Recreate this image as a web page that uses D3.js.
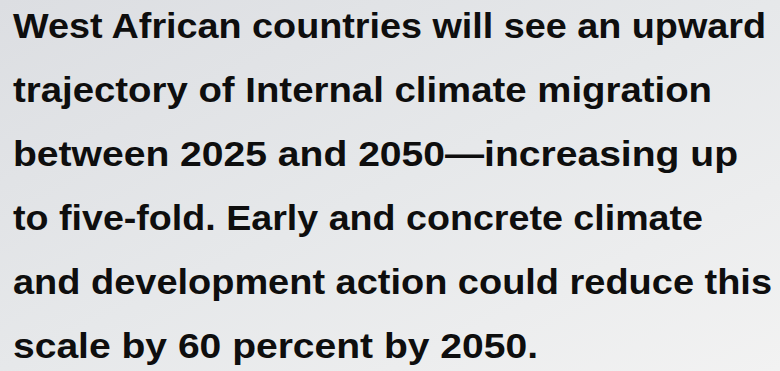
<!DOCTYPE html>
<html>
<head>
<meta charset="utf-8">
<script src="https://cdn.jsdelivr.net/npm/d3@7"></script>
<style>
  html, body { margin: 0; padding: 0; background: #e8e9eb; }
  svg { display: block; }
</style>
</head>
<body>
<svg id="chart" width="780" height="371"></svg>
<script>
// Text content (one entry per line of the statement)
const lines = [
  "West African countries will see an upward",
  "trajectory of Internal climate migration",
  "between 2025 and 2050\u2014increasing up",
  "to five-fold. Early and concrete climate",
  "and development action could reduce this",
  "scale by 60 percent by 2050."
];
const lineIndex = lines.map((d, i) => i);

// Layout: right edge of each line as set in the reference (pixels)
const lineRightEdges = [766, 712, 738, 703, 772, 538];

const W = 780, H = 371;
const svg = d3.select("#chart");

// Background gradient
const defs = svg.append("defs");
const grad = defs.append("linearGradient")
  .attr("id", "bg").attr("x1", "0%").attr("y1", "0%").attr("x2", "100%").attr("y2", "100%");
grad.append("stop").attr("offset", "0%").attr("stop-color", "#dcdee2");
grad.append("stop").attr("offset", "50%").attr("stop-color", "#e6e8ea");
grad.append("stop").attr("offset", "100%").attr("stop-color", "#f2f2f2");
svg.append("rect").attr("width", W).attr("height", H).attr("fill", "url(#bg)");

// Vertical placement of lines via a point scale
const y = d3.scalePoint().domain(lineIndex).range([38, 358]);
const left = 13;

svg.append("g").attr("class", "text-block")
  .selectAll("text").data(lines).join("text")
  .attr("x", left)
  .attr("y", (d, i) => y(i))
  .attr("font-family", "'Liberation Sans', Arial, sans-serif")
  .attr("font-weight", "bold")
  .attr("font-size", 35.5)
  .attr("fill", "#0e0e0e")
  .attr("textLength", (d, i) => lineRightEdges[i] - left)
  .attr("lengthAdjust", "spacingAndGlyphs")
  .text(d => d);
</script>
</body>
</html>
